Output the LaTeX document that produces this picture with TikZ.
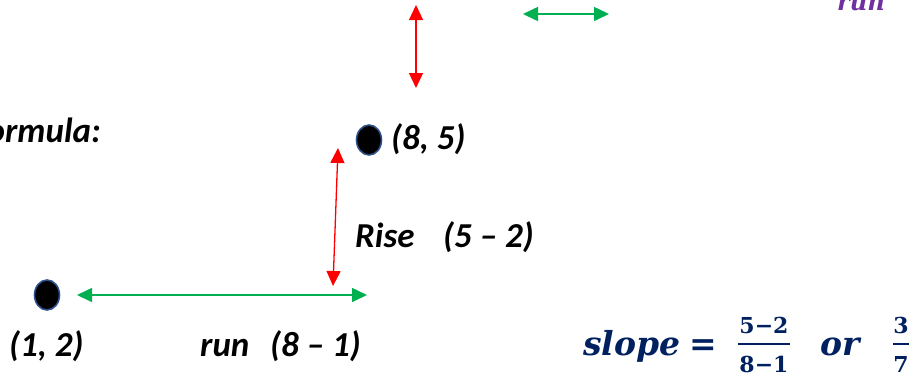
\documentclass[tikz,border=0pt]{standalone}
\usepackage{fontspec}
\setmainfont{Carlito}
\newfontfamily\mathlike{DejaVu Serif}
\usetikzlibrary{arrows.meta,shapes.geometric}
\definecolor{navy}{RGB}{0,32,96}
\definecolor{lpurple}{RGB}{112,48,160}
\definecolor{arrgreen}{RGB}{0,176,80}
\definecolor{dotblue}{RGB}{47,82,143}
\begin{document}
\begin{tikzpicture}[x=1pt,y=-1pt,
  lbl/.style={font=\fontsize{35}{38}\selectfont\bfseries\itshape, inner sep=0pt, anchor=base west},
  ptdot/.style={ellipse, fill=black, draw=dotblue, line width=1.6pt, minimum width=25pt, minimum height=30pt, inner sep=0pt},
  grarrow/.style={arrgreen, line width=1.6pt, {Triangle[length=15pt,width=14pt]}-{Triangle[length=15pt,width=14pt]}},
  rdarrow/.style={red, line width=1.3pt, {Triangle[length=15pt,width=14pt]}-{Triangle[length=15pt,width=14pt]}},
  fml/.style={navy, font=\mathlike\fontsize{33}{35}\selectfont\bfseries\itshape, inner sep=0pt, anchor=base west},
  fnum/.style={navy, font=\mathlike\fontsize{22}{24}\selectfont\bfseries, inner sep=0pt, anchor=base},
  fbar/.style={navy, line width=2.5pt}]
\useasboundingbox (0,0) rectangle (913,376);

% top fragments
\coordinate (tr1) at (416,5);
\coordinate (tr2) at (416,88);
\draw[rdarrow] (tr1) -- (tr2);
\coordinate (tg1) at (523,14);
\coordinate (tg2) at (609,14);
\draw[grarrow] (tg1) -- (tg2);
\node[lpurple, font=\mathlike\fontsize{24}{26}\selectfont\bfseries\itshape, inner sep=0pt, anchor=base west] (runtop) at (837,10) {run};

% formula label
\node[lbl, anchor=base east] (formula) at (101,142) {Formula:};

% points
\node[ptdot] (p2) at (369,140) {};
\node[lbl] (p2lbl) at (391,149) {(8, 5)};
\node[ptdot] (p1) at (47,295) {};
\node[lbl] (p1lbl) at (9,356) {(1, 2)};

% rise
\coordinate (ra1) at (338,148);
\coordinate (ra2) at (333,286);
\draw[rdarrow] (ra1) -- (ra2);
\node[lbl] (rise) at (355,247) {Rise};
\node[lbl] (risev) at (443,247) {(5 – 2)};

% run
\coordinate (ga1) at (77,295);
\coordinate (ga2) at (367,295);
\draw[grarrow] (ga1) -- (ga2);
\node[lbl] (run) at (200,356) {run};
\node[lbl] (runv) at (270,356) {(8 – 1)};

% slope formula
\node[fml] (slope) at (583,355) {slope};
\node[fml, font=\mathlike\fontsize{33}{35}\selectfont\bfseries] (eq) at (689,355) {=};
\node[fnum] (n1) at (764,333) {5−2};
\node[fnum] (d1) at (764,372) {8−1};
\coordinate (b1a) at (738,344);
\coordinate (b1b) at (790,344);
\draw[fbar] (b1a) -- (b1b);
\node[fml] (or) at (820,355) {or};
\node[fnum] (n2) at (901,333) {3};
\node[fnum] (d2) at (901,372) {7};
\coordinate (b2a) at (893,344);
\coordinate (b2b) at (909,344);
\draw[fbar] (b2a) -- (b2b);
\end{tikzpicture}
\end{document}
